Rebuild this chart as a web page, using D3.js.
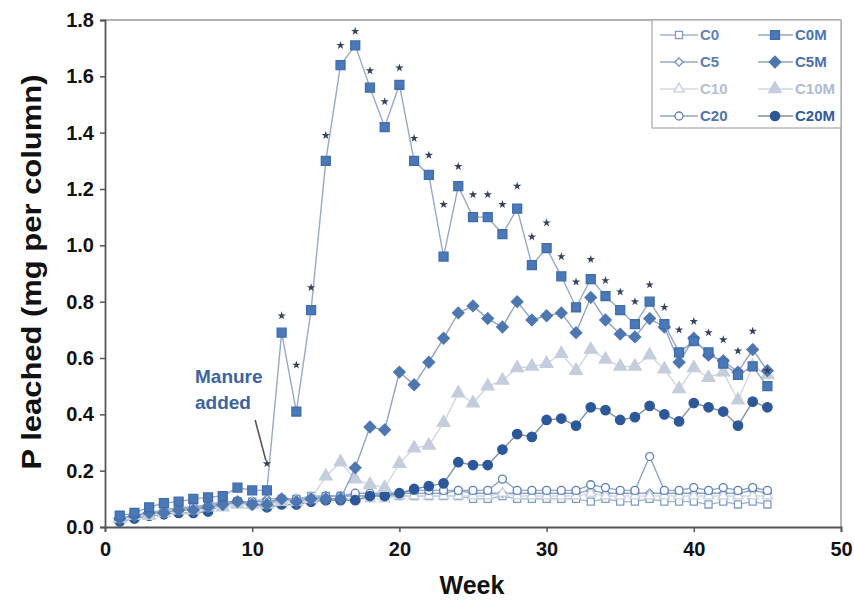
<!DOCTYPE html>
<html lang="en">
<head>
<meta charset="UTF-8">
<title>P leached</title>
<script src="https://cdn.jsdelivr.net/npm/d3@7"></script>
<style>
  body { margin: 0; background: #fff; }
  text { font-family: "Liberation Sans", Arial, sans-serif; }
</style>
</head>
<body>
<svg width="854" height="605"></svg>
<script>
// weeks 1..45
var weeks = d3.range(1, 46);

var C0  = [0.03,0.04,0.05,0.06,0.06,0.07,0.08,0.08,0.09,0.09,0.09,0.10,0.10,0.11,0.11,0.11,0.11,0.11,0.11,0.11,0.11,0.11,0.11,0.11,0.10,0.10,0.11,0.10,0.10,0.10,0.10,0.10,0.09,0.10,0.09,0.09,0.10,0.09,0.09,0.09,0.08,0.09,0.08,0.09,0.08];
var C5  = [0.03,0.04,0.05,0.06,0.07,0.07,0.08,0.09,0.09,0.09,0.10,0.10,0.10,0.10,0.11,0.11,0.11,0.11,0.12,0.12,0.12,0.12,0.12,0.13,0.12,0.12,0.12,0.12,0.12,0.12,0.12,0.12,0.13,0.12,0.12,0.12,0.12,0.12,0.12,0.12,0.12,0.12,0.12,0.13,0.12];
var C10 = [0.03,0.04,0.05,0.05,0.06,0.07,0.07,0.08,0.08,0.08,0.09,0.09,0.09,0.10,0.10,0.10,0.10,0.10,0.10,0.11,0.11,0.11,0.11,0.11,0.11,0.11,0.12,0.11,0.11,0.11,0.11,0.11,0.12,0.11,0.11,0.11,0.11,0.11,0.11,0.11,0.11,0.11,0.11,0.11,0.11];
var C20 = [0.03,0.04,0.05,0.05,0.06,0.07,0.07,0.08,0.09,0.09,0.09,0.10,0.10,0.10,0.11,0.11,0.12,0.12,0.12,0.12,0.13,0.13,0.13,0.13,0.13,0.13,0.17,0.13,0.13,0.13,0.13,0.13,0.15,0.14,0.13,0.13,0.25,0.13,0.13,0.14,0.13,0.14,0.13,0.14,0.13];

var C0M  = [0.04,0.05,0.07,0.085,0.09,0.10,0.105,0.11,0.14,0.13,0.13,0.69,0.41,0.77,1.30,1.64,1.71,1.56,1.42,1.57,1.30,1.25,0.96,1.21,1.10,1.10,1.04,1.13,0.93,0.99,0.89,0.78,0.88,0.82,0.77,0.72,0.80,0.72,0.62,0.66,0.62,0.58,0.54,0.57,0.50];
var C5M  = [0.03,0.04,0.05,0.05,0.06,0.06,0.07,0.08,0.09,0.08,0.08,0.10,0.09,0.10,0.10,0.10,0.21,0.355,0.345,0.55,0.505,0.585,0.67,0.76,0.785,0.74,0.71,0.80,0.735,0.75,0.76,0.69,0.815,0.735,0.685,0.675,0.74,0.71,0.585,0.67,0.61,0.59,0.55,0.63,0.555];
var C10M = [0.03,0.04,0.04,0.05,0.06,0.06,0.07,0.07,0.08,0.08,0.08,0.09,0.09,0.10,0.18,0.23,0.17,0.15,0.14,0.225,0.28,0.29,0.37,0.475,0.44,0.50,0.52,0.565,0.57,0.58,0.615,0.555,0.63,0.595,0.57,0.57,0.61,0.56,0.49,0.565,0.53,0.55,0.45,0.57,0.54];
var C20M = [0.02,0.03,0.04,0.045,0.05,0.05,0.055,0.08,0.09,0.08,0.07,0.08,0.08,0.09,0.095,0.095,0.095,0.11,0.11,0.12,0.135,0.145,0.155,0.23,0.22,0.22,0.275,0.33,0.32,0.38,0.385,0.36,0.425,0.415,0.38,0.39,0.43,0.40,0.375,0.44,0.425,0.41,0.36,0.445,0.425];

// significance stars (week, height)
var starWeeks = d3.range(11, 46);
var starVals = [0.225,0.75,0.575,0.85,1.39,1.71,1.76,1.62,1.51,1.63,1.38,1.32,1.145,1.28,1.18,1.18,1.145,1.21,1.03,1.08,0.96,0.87,0.95,0.875,0.835,0.80,0.86,0.78,0.70,0.73,0.69,0.665,0.625,0.695,0.555];

var xTicks = [0, 10, 20, 30, 40, 50];
var yTicks = [0, 0.2, 0.4, 0.6, 0.8, 1.0, 1.2, 1.4, 1.6, 1.8];

// square-ish diamond (rotated square)
var rhomb = {
  draw: function(ctx, size) {
    var r = Math.sqrt(size / 2);
    ctx.moveTo(0, -r); ctx.lineTo(r, 0); ctx.lineTo(0, r); ctx.lineTo(-r, 0); ctx.closePath();
  }
};

var series = [
  {name: "C0",   vals: C0,   sym: d3.symbolSquare,   size: 50, fill: "#fff",    stroke: "#7e9ccb", line: "#a3b5d2", text: "#5f82ba"},
  {name: "C5",   vals: C5,   sym: rhomb,             size: 34, fill: "#fff",    stroke: "#6e8ec2", line: "#93a8c9", text: "#5a7db6"},
  {name: "C10",  vals: C10,  sym: d3.symbolTriangle, size: 45, fill: "#fff",    stroke: "#c5cfde", line: "#d3dae5", text: "#b4bfd2"},
  {name: "C20",  vals: C20,  sym: d3.symbolCircle,   size: 50, fill: "#fff",    stroke: "#5a7fb9", line: "#8ea5c9", text: "#4f74ae"},
  {name: "C20M", vals: C20M, sym: d3.symbolCircle,   size: 70, fill: "#2c5899", stroke: "#2c5899", line: "#8090a8", text: "#2f5a9c"},
  {name: "C10M", vals: C10M, sym: d3.symbolTriangle, size: 70, fill: "#c4cddb", stroke: "#c4cddb", line: "#d0d7e2", text: "#aebbd0"},
  {name: "C5M",  vals: C5M,  sym: rhomb,             size: 66, fill: "#4e77b0", stroke: "#4e77b0", line: "#90a3c2", text: "#4a70ac"},
  {name: "C0M",  vals: C0M,  sym: d3.symbolSquare,   size: 80, fill: "#4b78b7", stroke: "#3f6cab", line: "#97a9c6", text: "#4a74b4"}
];

var svg = d3.select("svg");

var x = d3.scaleLinear().domain([0, 50]).range([105, 841]);
var y = d3.scaleLinear().domain([0, 1.8]).range([527, 20]);

// frame (top / right)
svg.append("line").attr("x1", 105).attr("x2", 841).attr("y1", 20).attr("y2", 20)
  .attr("stroke", "#9a9a9a").attr("stroke-width", 1.5);
svg.append("line").attr("x1", 841).attr("x2", 841).attr("y1", 20).attr("y2", 527)
  .attr("stroke", "#9a9a9a").attr("stroke-width", 1.5);

// legend box
svg.append("rect").attr("x", 652).attr("y", 20).attr("width", 189).attr("height", 108)
  .attr("fill", "#fff").attr("stroke", "#a8a8a8").attr("stroke-width", 1.2);

// axes
var xAxis = svg.append("g").attr("transform", "translate(0,527)")
  .call(d3.axisBottom(x).tickValues(xTicks).tickSize(5).tickFormat(d3.format("d")));
var yAxis = svg.append("g").attr("transform", "translate(105,0)")
  .call(d3.axisLeft(y).tickValues(yTicks).tickSize(5).tickFormat(d3.format(".1f")));

[xAxis, yAxis].forEach(function(a) {
  a.select(".domain").attr("stroke", "#555").attr("stroke-width", 1.8);
  a.selectAll(".tick line").attr("stroke", "#555").attr("stroke-width", 1.5);
  a.selectAll(".tick text").attr("fill", "#111").attr("font-size", 20)
    .attr("font-weight", "bold").attr("font-family", "Liberation Sans, Arial, sans-serif");
});
xAxis.selectAll(".tick text").attr("dy", "1.05em");
yAxis.selectAll(".tick text").attr("dx", "-0.15em");

// axis titles
svg.append("text").attr("x", 472).attr("y", 594).attr("text-anchor", "middle")
  .attr("font-size", 25).attr("font-weight", "bold").attr("fill", "#111").text("Week");
svg.append("text").attr("transform", "translate(41,272) rotate(-90)").attr("text-anchor", "middle")
  .attr("font-size", 27).attr("font-weight", "bold").attr("fill", "#111")
  .attr("textLength", 395).attr("lengthAdjust", "spacingAndGlyphs")
  .text("P leached (mg per column)");

// series
var line = d3.line().x(function(d) { return x(d.w); }).y(function(d) { return y(d.v); });

series.forEach(function(s) {
  var pts = weeks.map(function(w, i) { return {w: w, v: s.vals[i]}; });
  var g = svg.append("g");
  g.append("path").datum(pts).attr("d", line).attr("fill", "none")
    .attr("stroke", s.line).attr("stroke-width", 1.4);
  g.selectAll("path.m").data(pts).join("path").attr("class", "m")
    .attr("transform", function(d) { return "translate(" + x(d.w) + "," + y(d.v) + ")"; })
    .attr("d", d3.symbol().type(s.sym).size(s.size))
    .attr("fill", s.fill).attr("stroke", s.stroke).attr("stroke-width", 1.3);
});

// stars
svg.append("g").selectAll("path").data(starWeeks).join("path")
  .attr("transform", function(d, i) { return "translate(" + x(d) + "," + y(starVals[i]) + ")"; })
  .attr("d", d3.symbol().type(d3.symbolStar).size(22))
  .attr("fill", "#34425e");

// manure annotation
svg.append("line").attr("x1", x(10.2)).attr("y1", 420).attr("x2", x(11) - 1).attr("y2", y(0.225) - 3)
  .attr("stroke", "#555").attr("stroke-width", 1.6);
var ann = svg.append("text").attr("font-size", 19).attr("font-weight", "bold").attr("fill", "#3b64a0");
ann.append("tspan").attr("x", 195).attr("y", 383).text("Manure");
ann.append("tspan").attr("x", 195).attr("y", 409).text("added");

// legend
var legendRows = [35, 62, 89, 116];
var legCols = [
  {x1: 660, x2: 698, mx: 679, tx: 700, items: ["C0", "C5", "C10", "C20"]},
  {x1: 758, x2: 793, mx: 775, tx: 795, items: ["C0M", "C5M", "C10M", "C20M"]}
];
var byName = {};
series.forEach(function(s) { byName[s.name] = s; });
legCols.forEach(function(c) {
  c.items.forEach(function(n, i) {
    var s = byName[n], ly = legendRows[i];
    svg.append("line").attr("x1", c.x1).attr("x2", c.x2).attr("y1", ly).attr("y2", ly)
      .attr("stroke", s.line).attr("stroke-width", 1.6);
    svg.append("path").attr("transform", "translate(" + c.mx + "," + ly + ")")
      .attr("d", d3.symbol().type(s.sym).size(s.size))
      .attr("fill", s.fill).attr("stroke", s.stroke).attr("stroke-width", 1.3);
    svg.append("text").attr("x", c.tx).attr("y", ly + 5).attr("font-size", 15)
      .attr("font-weight", "bold").attr("fill", s.text).text(n);
  });
});
</script>
</body>
</html>
